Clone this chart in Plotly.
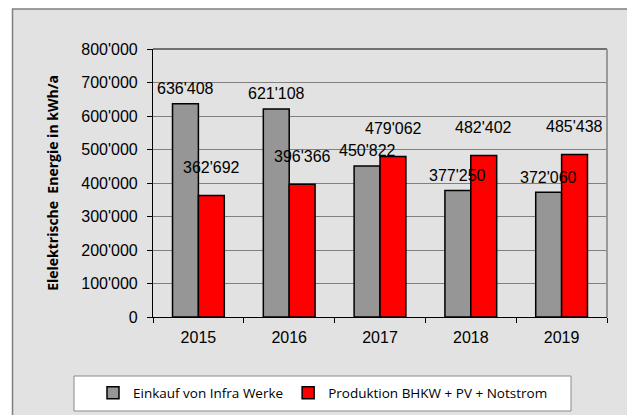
import plotly.graph_objects as go

years = ["2015", "2016", "2017", "2018", "2019"]
einkauf = [636408, 621108, 450822, 377250, 372060]
produktion = [362692, 396366, 479062, 482402, 485438]
y_ticks = [0, 100000, 200000, 300000, 400000, 500000, 600000, 700000, 800000]

W, H = 627, 415
L, R, T, B = 153, 20, 49, 98
pw, ph = W - L - R, H - T - B

def px_x(p):
    return (p - L) / pw

def px_y(p):
    return (H - p - B) / ph

def fmt(v):
    return f"{v:,}".replace(",", "'")

fig = go.Figure()
fig.add_trace(go.Bar(x=years, y=einkauf, name="Einkauf von Infra Werke",
                     marker=dict(color="#969696", line=dict(color="black", width=1.5))))
fig.add_trace(go.Bar(x=years, y=produktion, name="Produktion BHKW + PV + Notstrom",
                     marker=dict(color="#ff0000", line=dict(color="black", width=1.5))))

label_font = dict(family="Liberation Sans, Arial", size=16, color="black")
ann = []
# category axes place annotations by category index
for i, v in enumerate(einkauf):
    ann.append(dict(x=i, y=v, xref="x", yref="y", text=fmt(v), showarrow=False,
                    xshift=-13, yshift=15, font=label_font))
for i, v in enumerate(produktion):
    ann.append(dict(x=i, y=v, xref="x", yref="y", text=fmt(v), showarrow=False,
                    xshift=13, yshift=28, font=label_font))

shapes = [
    # outer grey chart area
    dict(type="rect", xref="paper", yref="paper", layer="below",
         x0=px_x(12.5), x1=px_x(640), y0=px_y(430), y1=px_y(9),
         fillcolor="#e2e2e2", line=dict(color="#7f7f7f", width=1.5)),
    # top border of plot area
    dict(type="line", xref="paper", yref="paper", x0=0, x1=1, y0=1, y1=1,
         line=dict(color="black", width=1.2)),
    # right border of plot area
    dict(type="line", xref="paper", yref="paper", x0=1, x1=1, y0=0, y1=1,
         line=dict(color="#9a9a9a", width=2)),
    # legend box
    dict(type="rect", xref="paper", yref="paper", layer="below",
         x0=px_x(74), x1=px_x(571), y0=px_y(411), y1=px_y(376),
         fillcolor="white", line=dict(color="#8a8a8a", width=1)),
]

fig.update_layout(
    width=W, height=H,
    margin=dict(l=L, r=R, t=T, b=B, autoexpand=False),
    paper_bgcolor="white", plot_bgcolor="white",
    separators=".'",
    barmode="group", bargap=0.43, bargroupgap=0,
    showlegend=True,
    legend=dict(orientation="h", x=px_x(93), xanchor="left",
                y=px_y(393), yanchor="middle", bgcolor="rgba(0,0,0,0)",
                borderwidth=0, itemwidth=30,
                font=dict(family="Open Sans, sans-serif", size=13.5, color="black")),
    annotations=ann,
    shapes=shapes,
    xaxis=dict(type="category", range=[-0.5, len(years) - 0.5],
               showline=True, linecolor="black", linewidth=1.2,
               ticks="outside", tickson="boundaries", ticklen=5, tickcolor="black",
               ticklabelstandoff=6,
               tickfont=dict(family="Liberation Sans, Arial", size=16, color="black"),
               tickangle=0, showgrid=False, fixedrange=True),
    yaxis=dict(range=[0, 800000], tickvals=y_ticks, tickformat=",",
               showline=True, linecolor="black", linewidth=1.2,
               ticks="outside", ticklen=5, tickcolor="black",
               ticklabelstandoff=6,
               tickfont=dict(family="Liberation Sans, Arial", size=16, color="black"),
               showgrid=True, gridcolor="#808080", gridwidth=1,
               zeroline=False,
               title=dict(text="Elelektrische  Energie in kWh/a", standoff=19,
                          font=dict(family="Open Sans, sans-serif", size=14, color="black",
                                    weight="bold"))),
    font=dict(family="Liberation Sans, Arial"),
)

fig.write_html("out.html", config={"displayModeBar": False},
               post_script="document.body.style.margin='0';")
